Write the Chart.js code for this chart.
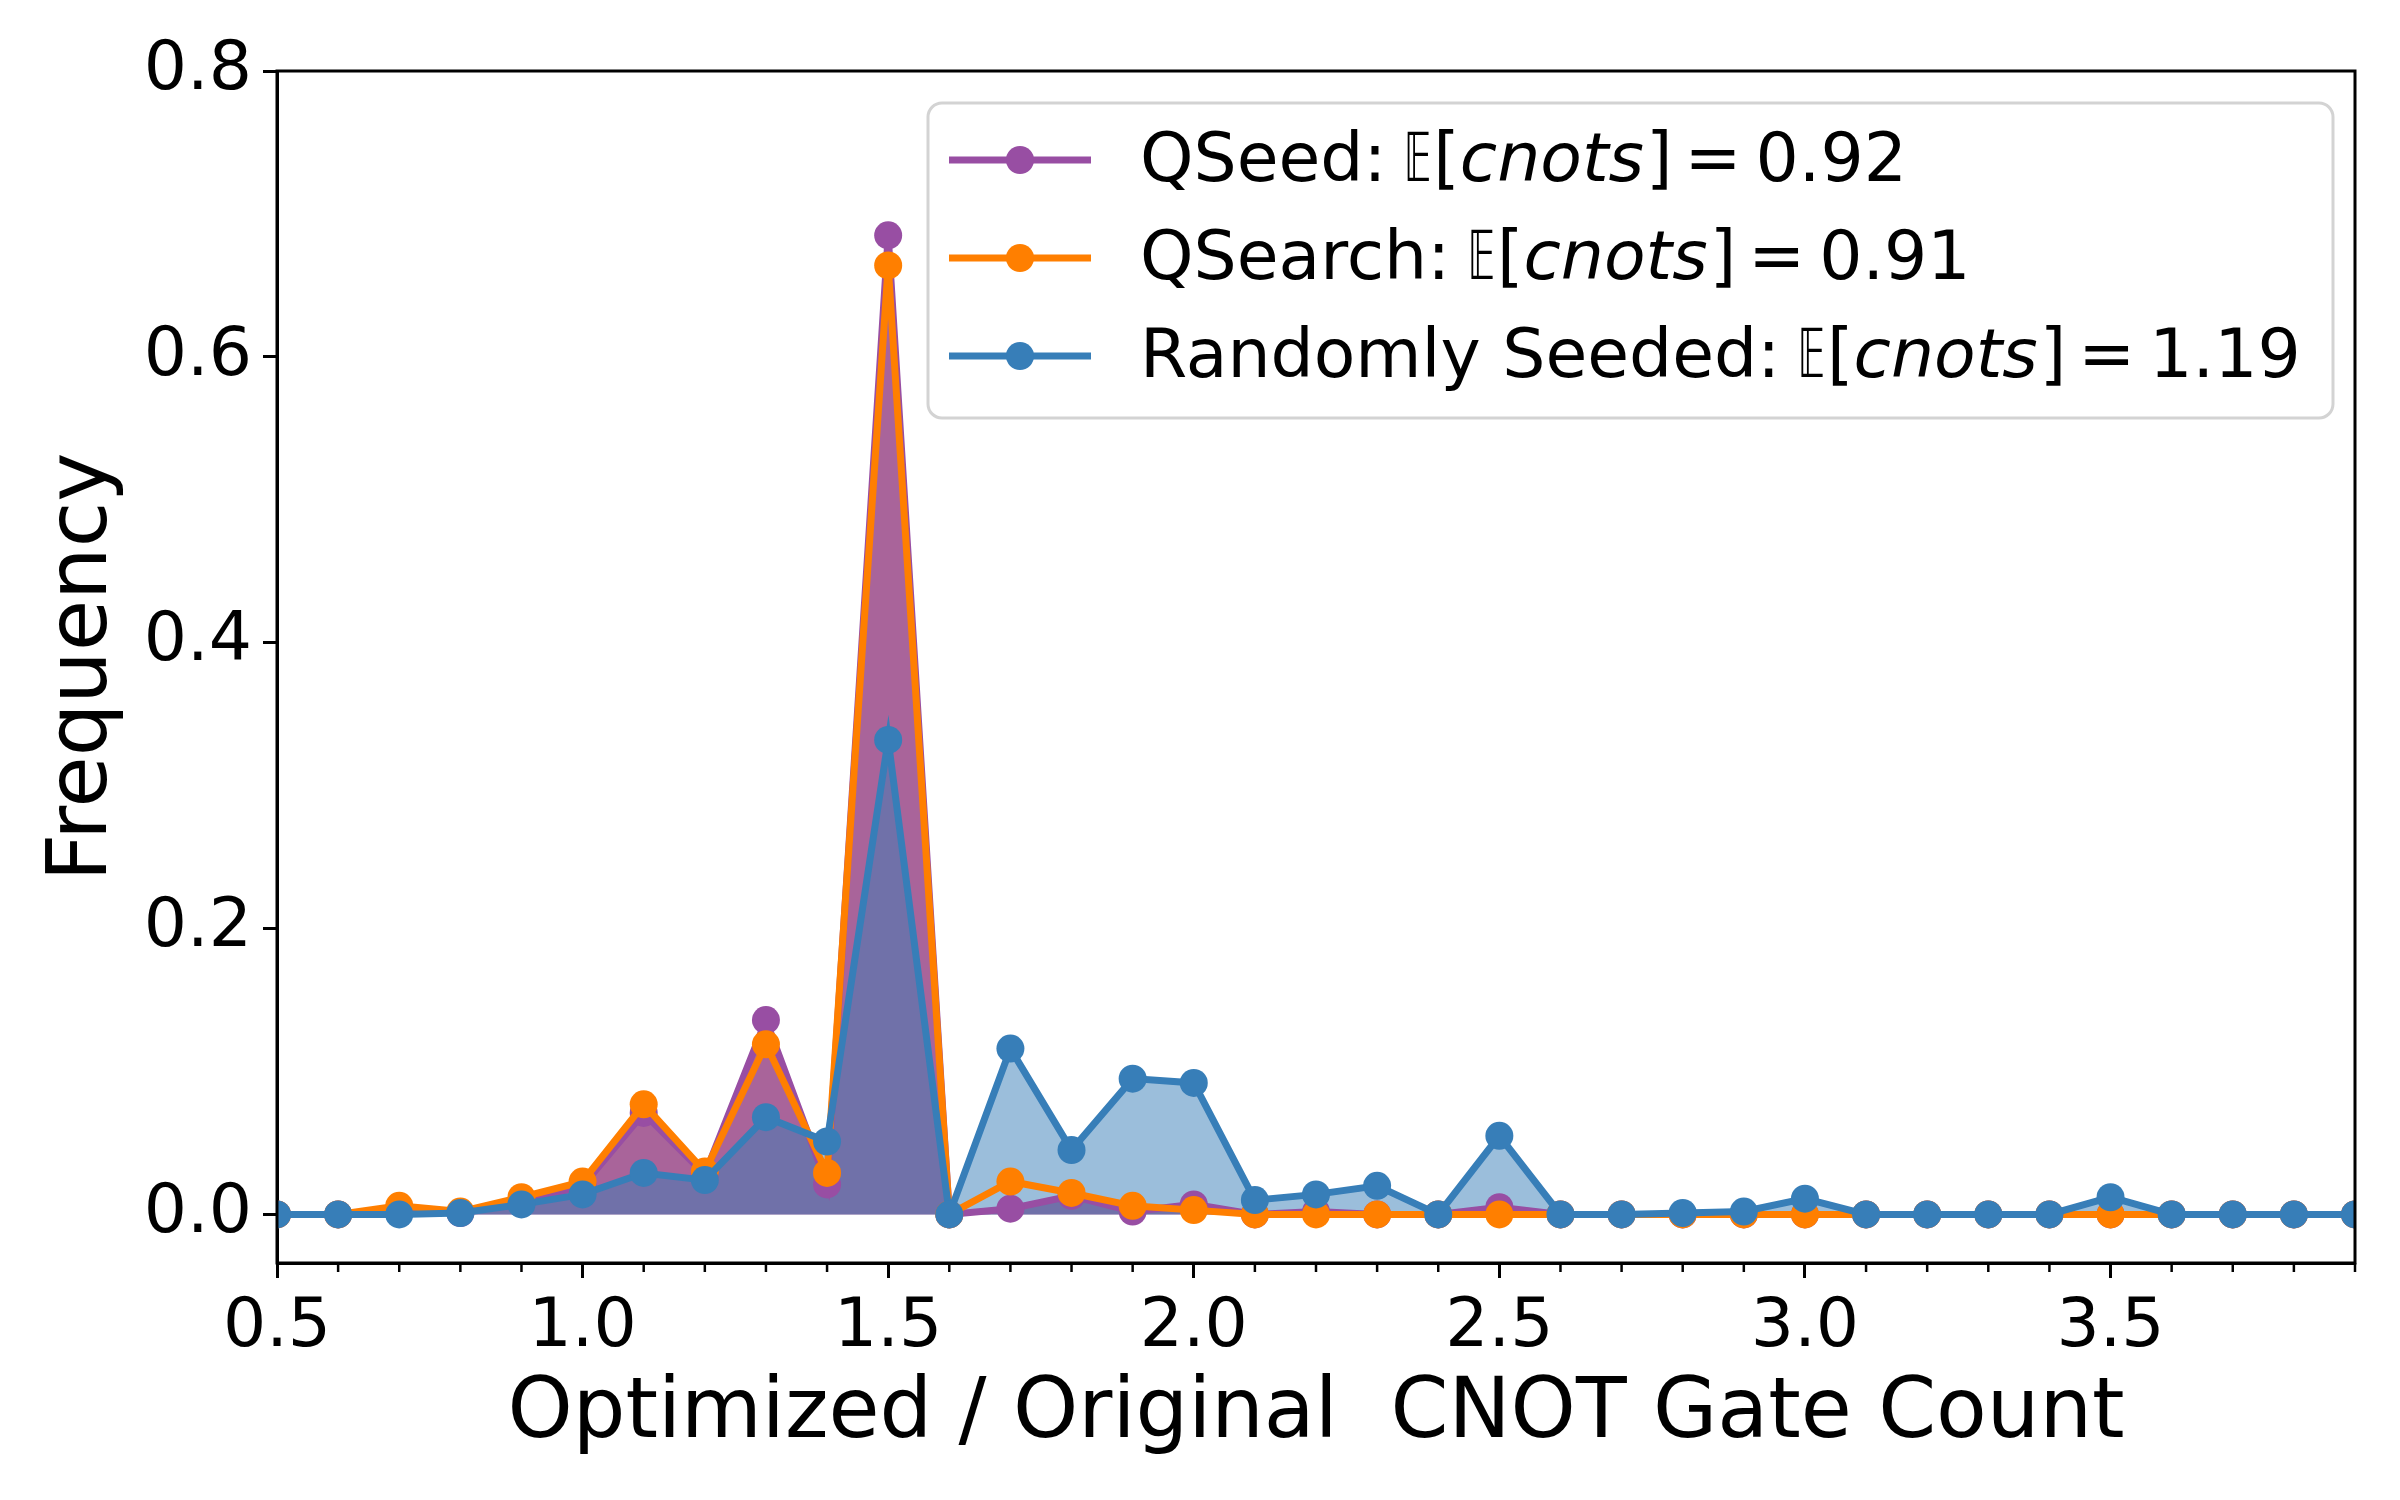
<!DOCTYPE html>
<html>
<head>
<meta charset="utf-8">
<script src="https://cdn.jsdelivr.net/npm/chart.js@4.4.1/dist/chart.umd.min.js"></script>
<style>
  html, body { margin: 0; padding: 0; background: #fff; }
  #wrap { width: 2400px; height: 1500px; }
</style>
</head>
<body>
<div id="wrap"><canvas id="freqChart" width="2400" height="1500"></canvas></div>
<script>
// ratio bins (x axis)
const ratios = [0.5, 0.6, 0.7, 0.8, 0.9, 1.0, 1.1, 1.2, 1.3, 1.4, 1.5, 1.6, 1.7, 1.8, 1.9, 2.0, 2.1, 2.2,
                2.3, 2.4, 2.5, 2.6, 2.7, 2.8, 2.9, 3.0, 3.1, 3.2, 3.3, 3.4, 3.5, 3.6, 3.7, 3.8, 3.9];

// frequencies
const qseed = [0, 0, 0.003, 0.001, 0.009, 0.02, 0.071, 0.028, 0.136, 0.021, 0.685, 0, 0.004, 0.013, 0.002, 0.007, 0, 0.002,
               0, 0, 0.005, 0, 0, 0, 0, 0, 0, 0, 0, 0, 0, 0, 0, 0, 0];
const qsearch = [0, 0, 0.006, 0.002, 0.012, 0.023, 0.077, 0.030, 0.119, 0.029, 0.664, 0, 0.023, 0.015, 0.006, 0.003, 0, 0,
                 0, 0, 0, 0, 0, 0, 0, 0, 0, 0, 0, 0, 0, 0, 0, 0, 0];
const randomSeeded = [0, 0, 0, 0.001, 0.007, 0.014, 0.029, 0.024, 0.068, 0.051, 0.332, 0, 0.116, 0.045, 0.095, 0.092, 0.010, 0.014,
                      0.020, 0, 0.055, 0, 0, 0.001, 0.002, 0.011, 0, 0, 0, 0, 0.012, 0, 0, 0, 0];

// legend text
const seriesNames = ['QSeed', 'QSearch', 'Randomly Seeded'];
const expectedCnots = ['0.92', '0.91', '1.19'];

const yTickValues = [0.0, 0.2, 0.4, 0.6, 0.8];

const FONT = 'DejaVu Sans';
Chart.defaults.font.family = FONT;
Chart.defaults.color = '#000';

function toPoints(vals) {
    return ratios.map((r, i) => ({x: r, y: vals[i]}));
}

function isMajor(v) {
    return Math.abs(v * 2 - Math.round(v * 2)) < 1e-6;
}

// spines, minor ticks and the mathtext-ish legend
const extrasPlugin = {
    id: 'extras',
    afterDraw(chart) {
        const ctx = chart.ctx;
        const area = chart.chartArea;
        const xs = chart.scales.x;
        ctx.save();
        // minor ticks
        ctx.strokeStyle = '#000';
        ctx.lineWidth = 2.5;
        xs.ticks.forEach(t => {
            if (isMajor(t.value)) return;
            const px = xs.getPixelForValue(t.value);
            ctx.beginPath();
            ctx.moveTo(px, area.bottom);
            ctx.lineTo(px, area.bottom + 9);
            ctx.stroke();
        });
        // frame
        ctx.lineWidth = 3;
        ctx.strokeRect(area.left, area.top, area.right - area.left, area.bottom - area.top);

        // legend
        const bx = 928, by = 103, bw = 1405, bh = 315;
        ctx.beginPath();
        ctx.roundRect(bx, by, bw, bh, 14);
        ctx.fillStyle = 'rgba(255,255,255,0.8)';
        ctx.fill();
        ctx.lineWidth = 3;
        ctx.strokeStyle = '#d3d3d3';
        ctx.stroke();

        const rowY = [160, 258, 356];
        const normal = '68px "' + FONT + '"';
        const italic = 'italic 68px "' + FONT + '"';
        chart.data.datasets.forEach((ds, i) => {
            const y = rowY[i];
            ctx.strokeStyle = ds.borderColor;
            ctx.lineWidth = 7;
            ctx.beginPath();
            ctx.moveTo(949, y);
            ctx.lineTo(1091, y);
            ctx.stroke();
            ctx.fillStyle = ds.borderColor;
            ctx.beginPath();
            ctx.arc(1020, y, 14, 0, Math.PI * 2);
            ctx.fill();

            // [text, font, horizontal squeeze, extra advance]
            const runs = [
                [seriesNames[i] + ': ', normal, 1, -4],
                ['\u{1D53C}', normal, 0.55, 2],
                ['[', normal, 1, 0],
                ['cnots', italic, 1, 2],
                [']', normal, 1, 12],
                ['=', normal, 1, 14],
                [expectedCnots[i], normal, 1, 0]
            ];
            let x = 1140;
            const ty = y + 3;
            ctx.fillStyle = '#000';
            ctx.textBaseline = 'middle';
            ctx.textAlign = 'left';
            runs.forEach(([txt, f, sx, extra]) => {
                ctx.font = f;
                const w = ctx.measureText(txt).width;
                ctx.save();
                ctx.translate(x, ty);
                ctx.scale(sx, 1);
                ctx.fillText(txt, 0, 0);
                ctx.restore();
                x += w * sx + extra;
            });
        });
        ctx.restore();
    }
};

const ctx = document.getElementById('freqChart').getContext('2d');
const chart = new Chart(ctx, {
    type: 'line',
    data: {
        datasets: [{
            label: seriesNames[0],
            data: toPoints(qseed),
            borderColor: '#984ea3',
            backgroundColor: 'rgb(169, 100, 154)',
            pointBackgroundColor: '#984ea3',
            fill: 'origin',
            order: 3
        }, {
            label: seriesNames[1],
            data: toPoints(qsearch),
            borderColor: '#ff7f00',
            backgroundColor: '#ff7f00',
            pointBackgroundColor: '#ff7f00',
            fill: false,
            order: 2
        }, {
            label: seriesNames[2],
            data: toPoints(randomSeeded),
            borderColor: '#377eb8',
            backgroundColor: 'rgba(55, 126, 184, 0.5)',
            pointBackgroundColor: '#377eb8',
            fill: 'origin',
            order: 1
        }]
    },
    options: {
        responsive: false,
        devicePixelRatio: 1,
        animation: false,
        layout: { padding: { top: 71, right: 45, left: 0, bottom: 0 } },
        elements: {
            line: { borderWidth: 7, tension: 0 },
            point: { radius: 14, borderWidth: 0, pointStyle: 'circle' }
        },
        datasets: { line: { clip: 0 } },
        scales: {
            x: {
                type: 'linear',
                min: 0.5,
                max: 3.9,
                afterFit: s => { s.height = 237; },
                ticks: {
                    stepSize: 0.1,
                    autoSkip: false,
                    maxRotation: 0,
                    padding: 10,
                    font: { size: 68 },
                    callback: v => isMajor(v) ? v.toFixed(1) : ''
                },
                grid: {
                    drawOnChartArea: false,
                    drawTicks: true,
                    tickLength: 15,
                    tickWidth: 3,
                    tickColor: c => (c.tick && isMajor(c.tick.value)) ? '#000' : 'rgba(0,0,0,0)'
                },
                border: { display: true, color: '#000', width: 3 },
                title: {
                    display: true,
                    text: 'Optimized / Original  CNOT Gate Count',
                    font: { size: 83, lineHeight: 1 },
                    padding: { top: 0, bottom: 43 }
                }
            },
            y: {
                min: -0.034,
                max: 0.8,
                afterFit: s => { s.width = 277; },
                afterBuildTicks: s => { s.ticks = yTickValues.map(v => ({value: v})); },
                ticks: {
                    padding: 11,
                    font: { size: 68 },
                    callback: v => v.toFixed(1)
                },
                grid: {
                    drawOnChartArea: false,
                    tickLength: 14,
                    tickWidth: 3,
                    tickColor: '#000'
                },
                border: { display: true, color: '#000', width: 3 },
                title: {
                    display: true,
                    text: 'Frequency',
                    font: { size: 83, lineHeight: 1 },
                    padding: { top: 43, bottom: 0 }
                }
            }
        },
        plugins: {
            legend: { display: false },
            tooltip: { enabled: false },
            filler: { drawTime: 'beforeDatasetsDraw' }
        }
    },
    plugins: [extrasPlugin]
});
</script>
</body>
</html>
